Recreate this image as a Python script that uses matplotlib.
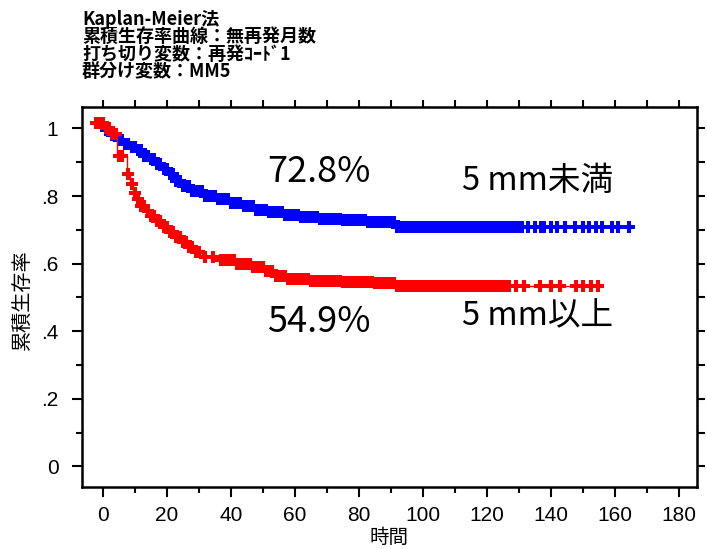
import numpy as np
import matplotlib
matplotlib.use("Agg")
import matplotlib.pyplot as plt
from matplotlib.ticker import MultipleLocator

# --- data ---
# step points (time, survival) of the Kaplan-Meier curves
blue_t = [-2, 1, 3, 5, 7, 9, 11, 13, 15, 17, 19, 21, 23, 25, 28, 32, 36, 40,
          44, 48, 52, 57, 62, 68, 75, 83, 92]
blue_s = [1.015, 0.995, 0.98, 0.965, 0.955, 0.945, 0.935, 0.92, 0.91, 0.895,
          0.88, 0.865, 0.845, 0.83, 0.815, 0.80, 0.79, 0.78, 0.77, 0.76,
          0.752, 0.745, 0.738, 0.733, 0.728, 0.723, 0.708]
red_t = [-2, 1, 3, 4.5, 7.5, 8.5, 9.5, 10.5, 12, 13.5, 15, 17, 19, 21, 23,
         25, 27, 29, 31, 36, 42, 47, 51, 54, 58, 65, 75, 85, 92]
red_s = [1.015, 1.0, 0.985, 0.92, 0.865, 0.835, 0.81, 0.79, 0.77, 0.755,
         0.74, 0.725, 0.71, 0.695, 0.68, 0.665, 0.65, 0.635, 0.62, 0.61, 0.60,
         0.59, 0.578, 0.565, 0.556, 0.55, 0.547, 0.543, 0.535]

# censored times (the "+" marks)
blue_censor = [-2, -1, 0, 1, 2, 3, 4, 5, 6, 7, 8, 9, 10, 11, 12, 13, 14, 15,
               16, 17, 18, 19, 20, 21, 22, 23, 24, 25, 26, 27, 28, 29, 30, 31,
               32, 33, 34, 35, 36, 37, 38, 39, 40, 41, 42, 43, 44, 45, 46, 47,
               48, 49, 50, 51, 52, 53, 54, 55, 56, 57, 58, 59, 60, 61, 62, 63,
               64, 65, 66, 67, 68, 69, 70, 71, 72, 73, 74, 75, 76, 77, 78, 79,
               80, 81, 82, 83, 84, 85, 86, 87, 88, 89, 90, 91, 92, 93, 94, 95,
               96, 97, 98, 99, 100, 101, 102, 103, 104, 105, 106, 107, 108,
               109, 110, 111, 112, 113, 114, 115, 116, 117, 118, 119, 120, 121,
               122, 123, 124, 125, 126, 127, 128, 129, 130, 131, 133, 135, 137,
               138, 140, 142, 144.5, 147.5, 150, 152, 154, 156, 159, 161, 164.5]
red_censor = [-2, -1, 0, 1, 2, 3, 4, 5, 6, 8, 9, 10, 11, 12, 13, 14, 15,
              16, 17, 18, 19, 20, 21, 22, 23, 24, 25, 26, 27, 28, 29, 30, 32,
              34.5, 37, 38, 39, 40, 41, 42, 43, 44, 45, 46, 47, 48, 49, 50, 51,
              52, 53, 54, 55, 56, 57, 58, 59, 60, 61, 62, 63, 64, 65, 66, 67,
              68, 69, 70, 71, 72, 73, 74, 75, 76, 77, 78, 79, 80, 81, 82, 83,
              84, 85, 86, 87, 88, 89, 90, 91, 92, 93, 94, 95, 96, 97, 98, 99,
              100, 101, 102, 103, 104, 105, 106, 107, 108, 109, 110, 111, 112,
              113, 114, 115, 116, 117, 118, 119, 120, 121, 122, 123, 124, 125,
              126, 127, 129, 131.5, 136.5, 140, 143, 148, 150, 152.5, 154.7]

x_ticks = [0, 20, 40, 60, 80, 100, 120, 140, 160, 180]
y_ticks = [0, 0.2, 0.4, 0.6, 0.8, 1.0]
y_ticklabels = ["0", ".2", ".4", ".6", ".8", "1"]

title_lines = ["Kaplan-Meier法", "累積生存率曲線：無再発月数",
               "打ち切り変数：再発ｺｰﾄﾞ1", "群分け変数：MM5"]
pct_labels = ["72.8%", "54.9%"]
group_labels = ["5 mm未満", "5 mm以上"]

JP = ["Noto Sans CJK JP", "DejaVu Sans"]
NARROW = ["Liberation Sans Narrow", "Liberation Sans", "DejaVu Sans"]


def km_value(t_steps, s_steps, t):
    # survival at time t from the step points (right-continuous)
    idx = np.searchsorted(t_steps, t, side="right") - 1
    return np.asarray(s_steps)[np.clip(idx, 0, len(s_steps) - 1)]


fig = plt.figure(figsize=(7.07, 5.49), dpi=100)
ax = fig.add_axes([82 / 707, 1 - 487 / 549, 615 / 707, 380 / 549])

for t_steps, s_steps, cens, col in [(blue_t, blue_s, blue_censor, "#0000ff"),
                                    (red_t, red_s, red_censor, "#ff0000")]:
    end = max(cens)
    ax.plot(list(t_steps) + [end], list(s_steps) + [s_steps[-1]],
            drawstyle="steps-post", color=col, lw=1.0)
    ax.plot(cens, km_value(t_steps, s_steps, cens), ls="none", marker="+",
            ms=8.5, mew=2.9, color=col)

ax.set_xlim(-6.5, 185.7)
ax.set_ylim(-0.0607, 1.0636)

ax.set_xticks(x_ticks)
ax.set_xticklabels([str(v) for v in x_ticks], family=NARROW, fontsize=15)
ax.set_yticks(y_ticks)
ax.set_yticklabels(y_ticklabels, family=NARROW, fontsize=15)
ax.xaxis.set_minor_locator(MultipleLocator(10))
ax.yaxis.set_minor_locator(MultipleLocator(0.1))
ax.tick_params(which="major", direction="out", length=7, width=1.5)
ax.tick_params(axis="x", which="major", pad=7)
ax.tick_params(axis="y", which="major", pad=10)
ax.tick_params(which="minor", direction="out", length=4, width=1.5)
for sp in ax.spines.values():
    sp.set_linewidth(1.8)

# ticks on top and right without labels
top = ax.secondary_xaxis("top")
top.set_xticks(list(range(0, 190, 10)))
top.tick_params(direction="out", length=5, width=1.5, labeltop=False)
right = ax.secondary_yaxis("right")
right.set_yticks([0, 0.1, 0.2, 0.3, 0.4, 0.5, 0.6, 0.7, 0.8, 0.9, 1.0])
right.tick_params(direction="out", length=6, width=1.5, labelright=False)

# annotations
ax.text(67.6, 0.871, pct_labels[0], family=JP, fontsize=26, ha="center", va="center")
ax.text(67.6, 0.428, pct_labels[1], family=JP, fontsize=26, ha="center", va="center")
ax.text(135.9, 0.845, group_labels[0], family=JP, fontsize=23.5, ha="center", va="center")
ax.text(135.9, 0.445, group_labels[1], family=JP, fontsize=23.5, ha="center", va="center")

# axis labels
fig.text(389 / 707, 1 - 537 / 549, "時間", family=JP, fontsize=14,
         ha="center", va="center")
fig.text(23 / 707, 1 - 300 / 549, "累積生存率", family=JP, fontsize=14.5,
         rotation=90, ha="center", va="center")

# title block
for i, line in enumerate(title_lines):
    fig.text(82 / 707, 1 - (19.5 + 17.3 * i) / 549, line, family=JP,
             fontweight="bold", fontsize=13, ha="left", va="center")

fig.savefig("out.png", dpi=100)
